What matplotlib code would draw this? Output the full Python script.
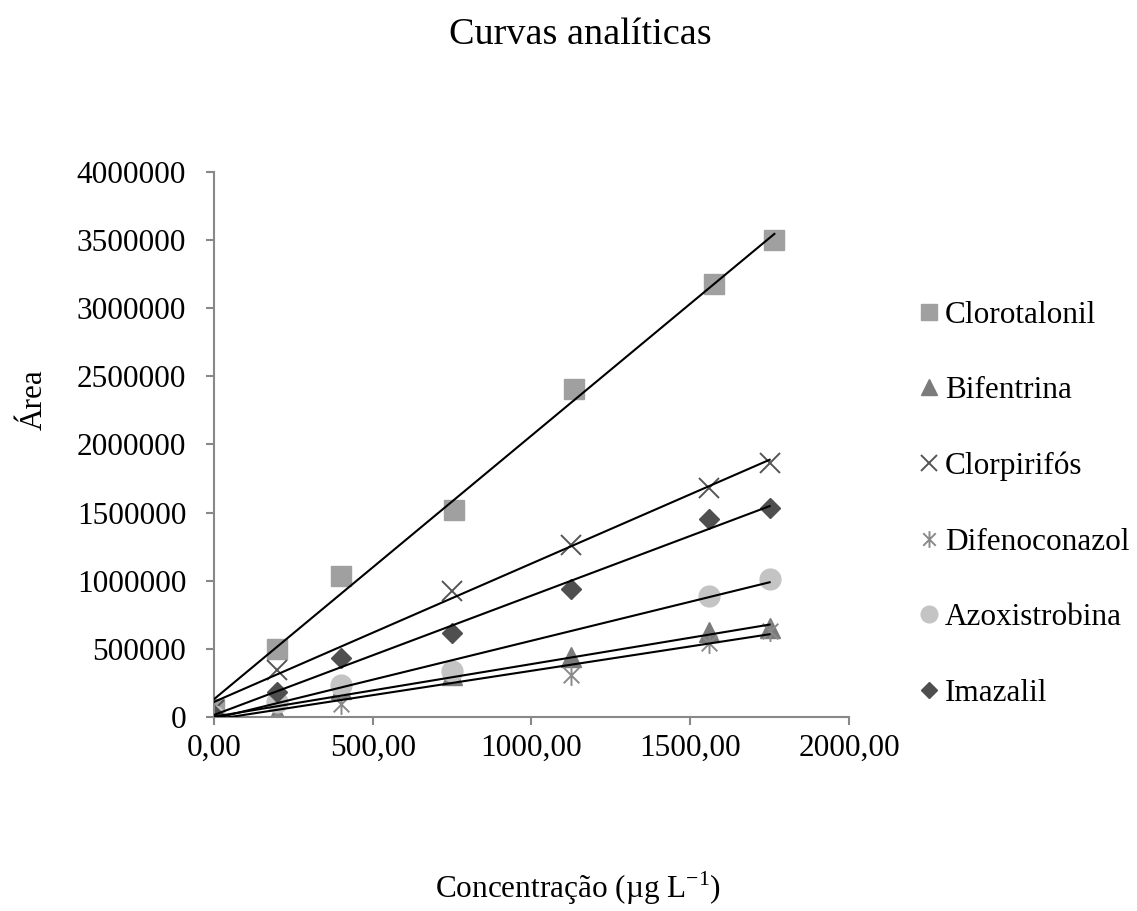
import numpy as np
import matplotlib
matplotlib.use("Agg")
import matplotlib.pyplot as plt
from matplotlib.path import Path

plt.rcParams['font.family'] = ['Liberation Serif', 'DejaVu Serif']
plt.rcParams['mathtext.fontset'] = 'custom'
plt.rcParams['mathtext.rm'] = 'Liberation Serif'

# concentration (ug/L) and peak area for each compound
names = ["Clorotalonil", "Bifentrina", "Clorpirifós", "Difenoconazol", "Azoxistrobina", "Imazalil"]

x_cloro = [0, 200, 400, 757, 1135, 1576, 1765]
y_cloro = [60000, 500000, 1035000, 1520000, 2405000, 3180000, 3500000]

x_bife = [0, 200, 400, 750, 1125, 1560, 1750]
y_bife = [5000, 20000, 205000, 305000, 443000, 620000, 650000]

x_clorp = [0, 200, 750, 1125, 1560, 1750]
y_clorp = [50000, 345000, 927000, 1260000, 1683000, 1867000]

x_dife = [0, 200, 400, 750, 1125, 1560, 1750]
y_dife = [5000, 30000, 95000, 330000, 308000, 540000, 630000]

x_azox = [0, 200, 400, 750, 1560, 1750]
y_azox = [10000, 110000, 235000, 338000, 888000, 1010000]

x_imaz = [0, 200, 400, 750, 1125, 1560, 1750]
y_imaz = [15000, 186000, 431000, 614000, 937000, 1451000, 1536000]

series_x = [x_cloro, x_bife, x_clorp, x_dife, x_azox, x_imaz]
series_y = [y_cloro, y_bife, y_clorp, y_dife, y_azox, y_imaz]

# excel style "star" marker: an x with a vertical bar
star = Path([(0, -1), (0, 1), (-0.75, -0.75), (0.75, 0.75), (-0.75, 0.75), (0.75, -0.75)],
            [Path.MOVETO, Path.LINETO, Path.MOVETO, Path.LINETO, Path.MOVETO, Path.LINETO])

styles = [
    dict(marker='s', ms=14, color='#a0a0a0', mec='#a0a0a0'),
    dict(marker='^', ms=14, color='#7b7b7b', mec='#7b7b7b'),
    dict(marker='x', ms=14, color='#555555', mew=1.4),
    dict(marker=star, ms=15, color='#8a8a8a', mew=1.4),
    dict(marker='o', ms=15, color='#c4c4c4', mec='#c4c4c4'),
    dict(marker='D', ms=10.5, color='#4f4f4f', mec='#4f4f4f'),
]

fig = plt.figure(figsize=(11.37, 9.11), dpi=100)
ax = fig.add_axes([0.1882, 0.2130, 0.5585, 0.5982])

for name, xs, ys, st in zip(names, series_x, series_y, styles):
    ax.plot(xs, ys, linestyle='none', label=name, zorder=2, **st)

# linear trendlines over each data range
for xs, ys in zip(series_x, series_y):
    k, b = np.polyfit(xs, ys, 1)
    xl = np.array([min(xs), max(xs)])
    ax.plot(xl, k * xl + b, color='black', lw=1.5, zorder=3)

ax.set_xlim(0, 2000)
ax.set_ylim(0, 4000000)
xt = [0, 500, 1000, 1500, 2000]
yt = list(range(0, 4000001, 500000))
ax.set_xticks(xt)
ax.set_xticklabels([f"{v:.2f}".replace('.', ',') for v in xt])
ax.set_yticks(yt)
ax.set_yticklabels([str(v) for v in yt])

for s in ['top', 'right']:
    ax.spines[s].set_visible(False)
for s in ['left', 'bottom']:
    ax.spines[s].set_color('#888888')
    ax.spines[s].set_linewidth(1.5)
ax.tick_params(axis='both', colors='#888888', labelcolor='black', labelsize=22.5, length=6, width=1.5)
ax.tick_params(axis='y', pad=14)
ax.tick_params(axis='x', pad=6)

fig.text(0.51, 0.962, "Curvas analíticas", ha='center', va='center', fontsize=27.5)
fig.text(0.508, 0.025, r"Concentração (µg L$^{\mathrm{-1}}$)", ha='center', va='center', fontsize=22.5)
fig.text(0.03, 0.561, "Área", ha='center', va='center', rotation=90, fontsize=22.5)

fig.legend(loc='upper left', bbox_to_anchor=(0.8075, 0.670), frameon=False, fontsize=22.5,
           handlelength=0.7, handletextpad=0.15, labelspacing=1.49, borderpad=0, borderaxespad=0,
           markerscale=0.8)

fig.savefig('out.png', dpi=100)
